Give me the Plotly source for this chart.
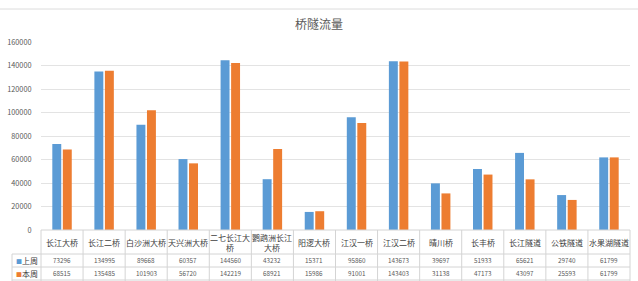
import plotly.graph_objects as go

categories = ["长江大桥", "长江二桥", "白沙洲大桥", "天兴洲大桥", "二七长江大桥", "鹦鹉洲长江大桥",
              "阳逻大桥", "江汉一桥", "江汉二桥", "晴川桥", "长丰桥", "长江隧道", "公铁隧道", "水果湖隧道"]
tick_labels = ["长江大桥", "长江二桥", "白沙洲大桥", "天兴洲大桥", "二七长江大<br>桥", "鹦鹉洲长江<br>大桥",
               "阳逻大桥", "江汉一桥", "江汉二桥", "晴川桥", "长丰桥", "长江隧道", "公铁隧道", "水果湖隧道"]
last_week = [73296, 134995, 89668, 60357, 144560, 43232, 15371, 95860, 143673, 39697, 51933, 65621, 29740, 61799]
this_week = [68515, 135485, 101903, 56720, 142219, 68921, 15986, 91001, 143403, 31138, 47173, 43097, 25593, 61799]
series_names = ["上周", "本周"]
series_colors = ["#5B9BD5", "#ED7D31"]
y_ticks = [0, 20000, 40000, 60000, 80000, 100000, 120000, 140000, 160000]

FONT = "Noto Sans CJK SC"
W, H = 638, 281
L, R, T, B = 41, 8, 42, 51
plot_h = H - T - B


def py(pix):
    return (H - B - pix) / plot_h


def px(pix):
    return (pix - L) / (W - L - R)


fig = go.Figure()
for name, vals, col in zip(series_names, [last_week, this_week], series_colors):
    fig.add_trace(go.Bar(x=categories, y=vals, name=name, marker=dict(color=col, line=dict(width=0))))

line_col = "#d4d4d4"
shapes = []
# top frame line
shapes.append(dict(type="line", xref="paper", yref="paper", x0=px(0), x1=px(W), y0=py(9), y1=py(9),
                   line=dict(color="#dcdcdc", width=1)))
# table horizontal lines
shapes.append(dict(type="line", xref="paper", yref="paper", x0=0, x1=1, y0=0, y1=0,
                   line=dict(color=line_col, width=1)))
for yp in [254, 267, 280]:
    shapes.append(dict(type="line", xref="paper", yref="paper", x0=px(12), x1=1, y0=py(yp), y1=py(yp),
                       line=dict(color=line_col, width=1)))
# vertical lines
for i in range(len(categories) + 1):
    xv = i / len(categories)
    shapes.append(dict(type="line", xref="paper", yref="paper", x0=xv, x1=xv, y0=0, y1=py(281),
                       line=dict(color=line_col, width=1)))
shapes.append(dict(type="line", xref="paper", yref="paper", x0=px(12), x1=px(12), y0=py(254), y1=py(281),
                   line=dict(color=line_col, width=1)))

annotations = []
for c, lab in zip(categories, tick_labels):
    annotations.append(dict(x=c, xref="x", y=py(242), yref="paper", text=lab, showarrow=False,
                            xanchor="center", yanchor="middle",
                            font=dict(family=FONT, size=8, color="#404040")))
for row_y, vals in zip([260.5, 273.5], [last_week, this_week]):
    for c, v in zip(categories, vals):
        annotations.append(dict(x=c, xref="x", y=py(row_y), yref="paper", text=str(v), showarrow=False,
                                xanchor="center", yanchor="middle",
                                font=dict(family=FONT, size=6.3, color="#595959")))
for row_y, name, col in zip([260.5, 273.5], series_names, series_colors):
    annotations.append(dict(x=px(14), xref="paper", y=py(row_y), yref="paper",
                            text=f'<span style="color:{col};font-size:6px">■</span>{name}', showarrow=False,
                            xanchor="left", yanchor="middle",
                            font=dict(family=FONT, size=8, color="#404040")))

fig.update_layout(
    width=W, height=H,
    margin=dict(l=L, r=R, t=T, b=B, pad=0),
    paper_bgcolor="white", plot_bgcolor="white",
    barmode="group", bargap=0.5, bargroupgap=0.15,
    showlegend=False,
    title=dict(text="桥隧流量", x=0.5, xanchor="center", y=1 - 25 / H, yanchor="middle",
               font=dict(family=FONT, size=12, color="#595959")),
    xaxis=dict(showticklabels=False, showgrid=False, zeroline=False, showline=False, ticks="",
               range=[-0.5, len(categories) - 0.5], automargin=False),
    yaxis=dict(range=[0, 160000], tickvals=y_ticks, ticktext=[str(t) for t in y_ticks],
               showgrid=True, gridcolor="#e3e3e3", gridwidth=1, zeroline=False, showline=False,
               ticks="outside", ticklen=7, tickcolor="rgba(0,0,0,0)",
               tickfont=dict(family=FONT, size=7.3, color="#595959"), automargin=False),
    shapes=shapes, annotations=annotations,
    font=dict(family=FONT),
)

fig.write_html("out.html")
